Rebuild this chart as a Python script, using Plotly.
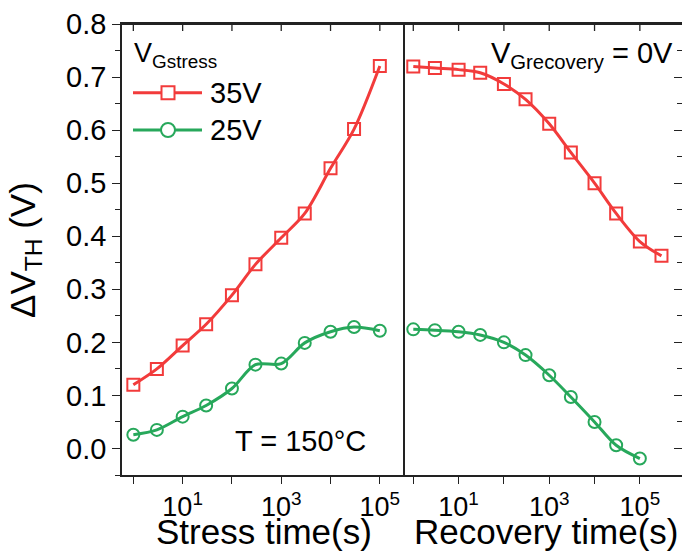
import plotly.graph_objects as go

# ---------------- data ----------------
stress_t = [1, 3, 10, 30, 100, 300, 1000, 3000, 1e4, 3e4, 1e5]
stress_35V = [0.120, 0.150, 0.194, 0.234, 0.289, 0.347, 0.397, 0.443, 0.528, 0.602, 0.721]
stress_25V = [0.026, 0.035, 0.060, 0.081, 0.113, 0.158, 0.160, 0.199, 0.220, 0.229, 0.222]

recov_t_35V = [1, 3, 10, 30, 100, 300, 1000, 3000, 1e4, 3e4, 1e5, 3e5]
recov_35V = [0.720, 0.717, 0.714, 0.708, 0.687, 0.658, 0.612, 0.558, 0.500, 0.443, 0.390, 0.363]
recov_t_25V = [1, 3, 10, 30, 100, 300, 1000, 3000, 1e4, 3e4, 1e5]
recov_25V = [0.2245, 0.223, 0.220, 0.214, 0.200, 0.176, 0.138, 0.097, 0.050, 0.006, -0.019]

x_tickvals = [1, 10, 100, 1000, 1e4, 1e5]
x_ticktext = ["", "10<sup>1</sup>", "", "10<sup>3</sup>", "", "10<sup>5</sup>"]
y_tickvals = [0.0, 0.1, 0.2, 0.3, 0.4, 0.5, 0.6, 0.7, 0.8]
y_ticktext = ["0.0", "0.1", "0.2", "0.3", "0.4", "0.5", "0.6", "0.7", "0.8"]

RED = "#F23B3B"
GREEN = "#27A85B"
AX = "#222222"
FONT = "Liberation Sans, Arial, sans-serif"

W, H = 682, 560
ML, MR, MT, MB = 122, 0, 24, 85
PW, PH = W - ML - MR, H - MT - MB
DIV = (403 - ML) / PW


def px(x):
    return (x - ML) / PW


def py(y):
    return (H - MB - y) / PH


fig = go.Figure()

line_kw = dict(shape="spline", smoothing=0.9, width=3)


def add(x, y, color, symbol, xa):
    fig.add_trace(go.Scatter(
        x=x, y=y, mode="lines+markers", xaxis=xa, yaxis="y" if xa == "x" else "y2",
        line=dict(color=color, **line_kw),
        marker=dict(symbol=symbol, size=12, color=color,
                    line=dict(color=color, width=2)),
        showlegend=False, hoverinfo="skip"))


add(stress_t, stress_35V, RED, "square-open", "x")
add(stress_t, stress_25V, GREEN, "circle-open", "x")
add(recov_t_35V, recov_35V, RED, "square-open", "x2")
add(recov_t_25V, recov_25V, GREEN, "circle-open", "x2")

xtickfont = dict(family=FONT, size=27, color="#000")
ytickfont = dict(family=FONT, size=29, color="#000")
common_x = dict(type="log", tickvals=x_tickvals, ticktext=x_ticktext, showgrid=False,
                zeroline=False, linecolor=AX, linewidth=1.5, tickcolor=AX, tickwidth=1.3,
                tickfont=xtickfont, showline=True, mirror=True, ticks="outside", ticklen=7)

fig.update_layout(
    width=W, height=H, margin=dict(l=ML, r=MR, t=MT, b=MB, autoexpand=False),
    plot_bgcolor="white", paper_bgcolor="white",
    xaxis=dict(domain=[0, DIV], range=[-0.23, 5.47], anchor="y", **common_x),
    xaxis2=dict(domain=[DIV, 1], range=[-0.227, 5.93], anchor="y2", **common_x),
    yaxis=dict(range=[-0.05, 0.8], anchor="x", tickvals=y_tickvals, ticktext=y_ticktext,
               ticks="outside", ticklen=8, tickwidth=1.3, tickcolor=AX,
               minor=dict(dtick=0.05, tick0=0.0, ticks="outside", ticklen=5,
                          tickwidth=1.3, tickcolor=AX),
               showline=True, linecolor=AX, linewidth=1.5, mirror=True,
               showgrid=False, zeroline=False, tickfont=ytickfont),
    yaxis2=dict(range=[-0.05, 0.8], anchor="x2", side="right", tickvals=y_tickvals,
                showticklabels=False, ticks="inside", ticklen=8, tickwidth=1.3, tickcolor=AX,
                minor=dict(dtick=0.05, tick0=0.0, ticks="inside", ticklen=5,
                           tickwidth=1.3, tickcolor=AX),
                showline=True, linecolor=AX, linewidth=1.5, mirror=False,
                showgrid=False, zeroline=False),
)

shapes = []
# top frame line and inward top ticks, placed via the axes' own scales
shapes.append(dict(type="line", xref="paper", yref="paper", x0=0, x1=1,
                   y0=1, y1=1, layer="above", line=dict(color=AX, width=2)))
for xr, yr in (("x", "y"), ("x2", "y2")):
    for tv in x_tickvals:
        shapes.append(dict(type="line", xref=xr, yref=yr + " domain",
                           x0=tv, x1=tv, y0=1, y1=1 - 7 / PH, layer="above",
                           line=dict(color=AX, width=1.3)))

# legend drawn manually
for yc, col in [(92.7, RED), (130, GREEN)]:
    shapes.append(dict(type="line", xref="paper", yref="paper", x0=px(133), x1=px(202),
                       y0=py(yc), y1=py(yc), line=dict(color=col, width=3)))
shapes.append(dict(type="rect", xref="paper", yref="paper", x0=px(161.5), x1=px(174.5),
                   y0=py(99.2), y1=py(86.2), line=dict(color=RED, width=2),
                   fillcolor="white"))
shapes.append(dict(type="circle", xref="paper", yref="paper", x0=px(161), x1=px(175),
                   y0=py(137), y1=py(123), line=dict(color=GREEN, width=2),
                   fillcolor="white"))
fig.update_layout(shapes=shapes)

ann = []


def text(t, x, y, size, xanchor="left", yanchor="middle", angle=0):
    ann.append(dict(text=t, x=px(x), y=py(y), xref="paper", yref="paper",
                    xanchor=xanchor, yanchor=yanchor, showarrow=False, textangle=angle,
                    font=dict(family=FONT, size=size, color="#000")))


text("V<sub>Gstress</sub>", 132, 55, 27)
text("35V", 208, 93, 29)
text("25V", 208, 130, 29)
text("T = 150°C", 300, 441, 29, xanchor="center")
text("V<sub>Grecovery</sub> = 0V", 489, 55, 29)
text("Stress time(s)", 263.5, 531, 35, xanchor="center")
text("Recovery time(s)", 545.5, 531, 35, xanchor="center")
text("ΔV<sub>TH</sub> (V)", 25, 250, 35, xanchor="center", angle=-90)
fig.update_layout(annotations=ann)

fig.write_html("out.html", config={"displayModeBar": False},
               post_script="document.body.style.margin='0';document.body.style.overflow='hidden';")
